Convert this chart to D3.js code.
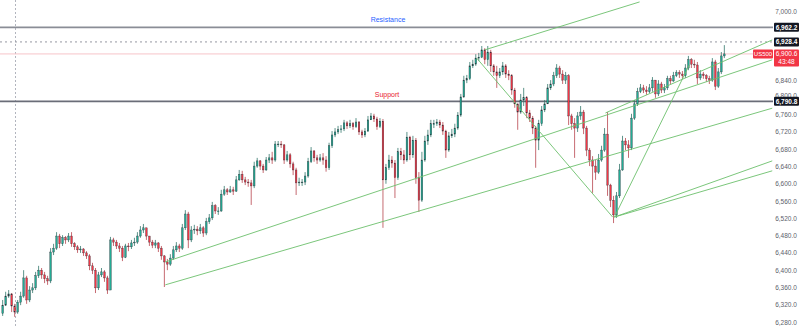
<html lang="en">
<head>
<meta charset="utf-8">
<title>US500 Support / Resistance</title>
<script src="https://d3js.org/d3.v7.min.js"></script>
<style>
  body { margin: 0; background: #ffffff; }
  text { font-family: "Liberation Sans", Arial, sans-serif; }
</style>
</head>
<body></body>
<script type="text/javascript">

//****************************************************************************************************************************//
// Data (prices in index points)

var firstOpen = 6300;

var closes = [
  6319,6340,6345,6317,6303,6326,6340,6382,6331,6354, 6359,6387,6400,6389,6380,6375,6442,6451,6479,6461,
  6475,6470,6479,6461,6454,6447,6449,6440,6433,6410, 6400,6359,6389,6396,6382,6354,6470,6465,6456,6451,
  6430,6456,6454,6463,6465,6479,6493,6498,6479,6465, 6458,6463,6451,6433,6419,6414,6428,6447,6456,6451,
  6498,6530,6470,6493,6495,6491,6498,6486,6512,6521, 6549,6537,6537,6576,6586,6581,6586,6583,6609,6622,
  6609,6604,6602,6595,6641,6653,6641,6632,6655,6660, 6655,6692,6692,6690,6655,6667,6646,6632,6602,6604,
  6604,6618,6651,6676,6660,6655,6660,6655,6637,6688, 6713,6720,6725,6727,6741,6734,6739,6732,6743,6720,
  6713,6722,6748,6757,6750,6732,6745,6609,6637,6655, 6648,6614,6674,6667,6655,6708,6667,6701,6614,6562,
  6655,6699,6713,6739,6739,6743,6736,6722,6678,6711, 6715,6729,6759,6801,6840,6843,6873,6877,6891,6893,
  6910,6887,6905,6873,6859,6850,6859,6873,6854,6850, 6817,6785,6766,6794,6799,6764,6752,6729,6701,6739,
  6771,6785,6822,6831,6850,6868,6854,6840,6850,6757, 6739,6729,6757,6766,6729,6678,6655,6641,6627,6655,
  6678,6715,6597,6562,6528,6572,6632,6699,6690,6683, 6752,6785,6813,6822,6817,6813,6822,6840,6808,6831,
  6817,6822,6843,6838,6850,6857,6854,6850,6868,6887, 6877,6875,6845,6854,6850,6843,6840,6882,6826,6859,
  6896,6900.6
];

var highs = [
  6331,6350,6354,6347,6322,6331,6350,6400,6387,6363, 6370,6396,6410,6405,6396,6387,6451,6461,6488,6484,
  6481,6479,6486,6488,6465,6458,6456,6451,6444,6437, 6417,6405,6396,6405,6400,6387,6477,6475,6470,6463,
  6456,6461,6463,6470,6475,6488,6502,6507,6498,6479, 6470,6470,6465,6456,6435,6426,6437,6456,6465,6461,
  6507,6539,6535,6502,6505,6502,6507,6502,6521,6530, 6558,6553,6546,6586,6595,6590,6595,6593,6618,6632,
  6630,6616,6611,6609,6651,6660,6655,6646,6662,6669, 6674,6699,6699,6699,6692,6676,6671,6651,6637,6614,
  6611,6627,6660,6685,6678,6667,6669,6671,6664,6695, 6722,6729,6734,6736,6748,6745,6748,6743,6752,6745,
  6725,6729,6757,6764,6762,6755,6752,6750,6646,6667, 6664,6655,6683,6683,6678,6720,6711,6711,6706,6627,
  6674,6711,6725,6748,6748,6750,6748,6743,6725,6720, 6727,6739,6766,6808,6850,6852,6882,6887,6900,6903,
  6919,6914,6919,6910,6877,6873,6868,6882,6877,6863, 6854,6822,6785,6808,6822,6803,6771,6757,6734,6748,
  6780,6794,6831,6840,6859,6877,6873,6863,6859,6854, 6762,6752,6766,6780,6771,6734,6683,6664,6655,6669,
  6688,6729,6766,6600,6572,6581,6646,6711,6706,6701, 6762,6794,6822,6831,6829,6826,6831,6847,6840,6840,
  6836,6831,6850,6850,6859,6863,6863,6861,6877,6896, 6891,6887,6882,6863,6859,6854,6850,6891,6887,6868,
  6905,6921
];

var lows = [
  6294,6317,6336,6303,6292,6299,6319,6336,6322,6326, 6347,6354,6382,6380,6370,6366,6370,6435,6447,6451,
  6456,6461,6465,6454,6447,6440,6440,6433,6426,6400, 6391,6347,6354,6384,6373,6345,6359,6456,6449,6442,
  6421,6428,6444,6449,6456,6461,6475,6486,6470,6456, 6451,6451,6442,6424,6361,6400,6410,6424,6442,6442,
  6447,6493,6451,6465,6484,6481,6484,6477,6481,6507, 6516,6530,6528,6535,6572,6574,6579,6574,6581,6607,
  6602,6597,6593,6551,6590,6637,6632,6625,6630,6648, 6646,6651,6685,6683,6646,6651,6637,6620,6574,6595,
  6595,6597,6614,6648,6651,6646,6651,6644,6628,6632, 6683,6708,6715,6718,6722,6727,6729,6725,6729,6713,
  6706,6708,6720,6748,6743,6725,6729,6498,6600,6632, 6637,6567,6609,6655,6646,6651,6655,6660,6600,6535,
  6558,6651,6690,6708,6729,6734,6729,6713,6660,6674, 6706,6708,6725,6755,6799,6833,6840,6868,6873,6884,
  6891,6877,6873,6859,6850,6822,6845,6852,6845,6840, 6806,6776,6725,6762,6780,6752,6743,6715,6637,6678,
  6734,6766,6785,6817,6826,6845,6845,6831,6831,6736, 6725,6660,6720,6748,6715,6664,6641,6579,6609,6623,
  6651,6674,6572,6546,6509,6521,6567,6630,6678,6660, 6678,6748,6780,6810,6810,6806,6810,6813,6799,6803,
  6810,6810,6817,6831,6836,6847,6845,6843,6845,6863, 6868,6868,6831,6840,6843,6836,6831,6836,6817,6822,
  6854,6891
];

// price axis ticks and marked levels
var tickValues = [7000, 6960, 6920, 6880, 6840, 6800, 6760, 6720, 6680, 6640, 6600, 6560, 6520, 6480, 6440, 6400, 6360, 6320, 6280];
var resistance = 6962.2;
var support = 6790.8;
var dottedLevel = 6928.4;
var lastPrice = 6900.6;
var symbol = "US500";
var countdown = "43:48";

// trend lines as [candle index, price, candle index, price]
var trendLines = [
  [54.3, 6419, 257, 6887],
  [54.3, 6366, 257, 6775],
  [201.3, 6764, 257, 6933],
  [161, 6910, 212.7, 7021],
  [158.3, 6891, 203.7, 6523],
  [204.3, 6523, 229.3, 6875],
  [204.3, 6523, 257, 6653],
  [204.3, 6523, 257, 6630]
];

//****************************************************************************************************************************//
// Canvas

var width = 800,
    height = 327,
    plotRight = 773;

var canvas = d3.select("body")
            .append("svg")
            .attr("width", width)
            .attr("height", height);

canvas.append("rect")
        .attr("width", width)
        .attr("height", height)
        .attr("fill", "#ffffff");

var n = closes.length;

var x = d3.scaleBand()
          .domain(d3.range(n))
          .range([0.5, 0.5 + 3*n])
          .padding(0.45);

var xi = d3.scaleLinear()
          .domain([0, n - 1])
          .range([x(0) + x.bandwidth()/2, x(n - 1) + x.bandwidth()/2]);

var y = d3.scaleLinear()
          .domain([6280, 7000])
          .range([322, 11]);

var plot = canvas.append("g");

plot.append("clipPath")
      .attr("id", "clip")
    .append("rect")
      .attr("x", 0)
      .attr("y", 0)
      .attr("width", plotRight)
      .attr("height", height);

// session divider
plot.append("line")
      .attr("x1", 15.5).attr("x2", 15.5)
      .attr("y1", 0).attr("y2", height)
      .attr("stroke", "#b2b5be")
      .attr("stroke-dasharray", "2,2");

//****************************************************************************************************************************//
// Levels

plot.append("line")
      .attr("x1", 0).attr("x2", plotRight)
      .attr("y1", y(dottedLevel)).attr("y2", y(dottedLevel))
      .attr("stroke", "#9598a1")
      .attr("stroke-dasharray", "2,3");

plot.append("line")
      .attr("x1", 0).attr("x2", plotRight)
      .attr("y1", y(lastPrice)).attr("y2", y(lastPrice))
      .attr("stroke", "#f7c5c9")
      .attr("stroke-width", 1);

plot.append("line")
      .attr("x1", 0).attr("x2", plotRight)
      .attr("y1", y(resistance)).attr("y2", y(resistance))
      .attr("stroke", "#8a8d96")
      .attr("stroke-width", 1.6);

plot.append("line")
      .attr("x1", 0).attr("x2", plotRight)
      .attr("y1", y(support)).attr("y2", y(support))
      .attr("stroke", "#6a6d78")
      .attr("stroke-width", 1.6);

plot.append("text")
      .attr("x", 388)
      .attr("y", y(resistance) - 5)
      .attr("text-anchor", "middle")
      .attr("fill", "#2962ff")
      .style("font-size", "7px")
      .text("Resistance");

plot.append("text")
      .attr("x", 387)
      .attr("y", y(support) - 4)
      .attr("text-anchor", "middle")
      .attr("fill", "#e8202e")
      .style("font-size", "7px")
      .text("Support");

//****************************************************************************************************************************//
// Candles

var candles = plot.append("g").attr("clip-path", "url(#clip)");

var opens = closes.map(function(c, i){ return i === 0 ? firstOpen : closes[i - 1]; });

candles.selectAll(".wick")
      .data(closes)
      .enter().append("line")
      .attr("x1", function(d, i){ return x(i) + x.bandwidth()/2; })
      .attr("x2", function(d, i){ return x(i) + x.bandwidth()/2; })
      .attr("y1", function(d, i){ return y(highs[i]); })
      .attr("y2", function(d, i){ return y(lows[i]); })
      .attr("stroke", function(d, i){ return d >= opens[i] ? "#34776c" : "#b8454e"; })
      .attr("stroke-width", 0.8);

candles.selectAll(".body")
      .data(closes)
      .enter().append("rect")
      .attr("x", function(d, i){ return x(i); })
      .attr("width", x.bandwidth())
      .attr("y", function(d, i){ return y(Math.max(d, opens[i])); })
      .attr("height", function(d, i){ return Math.max(0.8, Math.abs(y(d) - y(opens[i]))); })
      .attr("fill", function(d, i){ return d >= opens[i] ? "#22ab94" : "#f23645"; })
      .attr("stroke", "#2f323b")
      .attr("stroke-width", 0.35);

//****************************************************************************************************************************//
// Trend lines

candles.selectAll(".trend")
      .data(trendLines)
      .enter().append("line")
      .attr("x1", function(d){ return xi(d[0]); })
      .attr("y1", function(d){ return y(d[1]); })
      .attr("x2", function(d){ return xi(d[2]); })
      .attr("y2", function(d){ return y(d[3]); })
      .attr("stroke", "#6cbf6c")
      .attr("stroke-width", 0.9);

//****************************************************************************************************************************//
// Price axis

var fmt = d3.format(",.1f");

// ticks hidden behind the level tags are dropped; 6,800.0 peeks out above the support tag
var hidden = function(t){
    var ty = y(t);
    return Math.abs(ty - y(resistance)) < 7 || Math.abs(ty - y(dottedLevel)) < 7 ||
           (ty > y(lastPrice) - 9 && ty < y(lastPrice) + 16);
};

canvas.selectAll(".tick")
      .data(tickValues.filter(function(t){ return !hidden(t); }))
      .enter().append("text")
      .attr("x", 786)
      .attr("y", function(d){ return (d === 6800 ? y(d) - 2 : y(d)) + 2.5; })
      .attr("text-anchor", "middle")
      .attr("fill", "#5d606b")
      .style("font-size", "6.5px")
      .text(fmt);

function priceTag(value, fill){
    canvas.append("rect")
          .attr("x", 774)
          .attr("y", y(value) - 4.5)
          .attr("width", 25)
          .attr("height", 9)
          .attr("rx", 1)
          .attr("fill", fill);
    canvas.append("text")
          .attr("x", 786.5)
          .attr("y", y(value) + 2.3)
          .attr("text-anchor", "middle")
          .attr("fill", "#ffffff")
          .style("font-size", "6.5px")
          .style("font-weight", "bold")
          .text(fmt(value));
}

priceTag(resistance, "#131722");
priceTag(dottedLevel, "#131722");
priceTag(support, "#131722");

// current price tag with countdown
canvas.append("rect")
      .attr("x", 774)
      .attr("y", y(lastPrice) - 4.5)
      .attr("width", 25)
      .attr("height", 17)
      .attr("rx", 1)
      .attr("fill", "#f23645");
canvas.append("text")
      .attr("x", 786.5)
      .attr("y", y(lastPrice) + 2.3)
      .attr("text-anchor", "middle")
      .attr("fill", "#ffffff")
      .style("font-size", "6.5px")
      .text(fmt(lastPrice));
canvas.append("text")
      .attr("x", 786.5)
      .attr("y", y(lastPrice) + 10)
      .attr("text-anchor", "middle")
      .attr("fill", "#ffffff")
      .style("font-size", "6.5px")
      .text(countdown);

canvas.append("rect")
      .attr("x", 753)
      .attr("y", y(lastPrice) - 4.5)
      .attr("width", 20)
      .attr("height", 9)
      .attr("rx", 1)
      .attr("fill", "#f23645");
canvas.append("text")
      .attr("x", 763)
      .attr("y", y(lastPrice) + 2.3)
      .attr("text-anchor", "middle")
      .attr("fill", "#ffffff")
      .style("font-size", "6px")
      .text(symbol);

</script>
</html>
